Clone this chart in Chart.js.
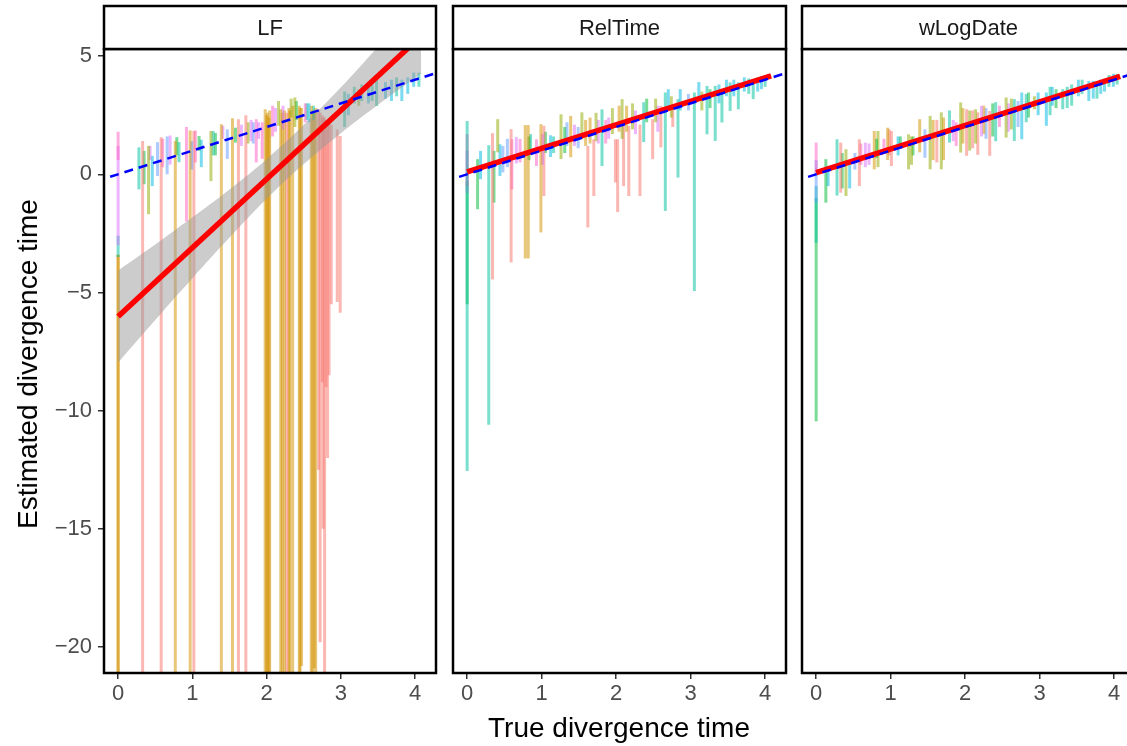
<!DOCTYPE html>
<html>
<head>
<meta charset="utf-8">
<script src="https://cdn.jsdelivr.net/npm/chart.js@4.4.0/dist/chart.umd.min.js"></script>
<style>
  body { margin: 0; width: 1127px; height: 746px; overflow: hidden; background: #fff; position: relative;
         font-family: "Liberation Sans", Arial, sans-serif; }
  canvas { position: absolute; top: 0; }
  .axis-title { position: absolute; color: #000; font-size: 28px; white-space: nowrap; transform: translate(-50%, -50%); }
  #yTitle { transform: translate(-50%, -50%) rotate(-90deg); }
</style>
</head>
<body>
<canvas id="lf" width="440" height="746" style="left:0"></canvas>
<canvas id="rel" width="341" height="746" style="left:449px"></canvas>
<canvas id="wlog" width="341" height="746" style="left:798px"></canvas>
<div class="axis-title" id="xTitle" style="left:619px; top:728px">True divergence time</div>
<div class="axis-title" id="yTitle" style="left:28px; top:364px">Estimated divergence time</div>
<script>
const FONT = '"Liberation Sans", Arial, sans-serif'

// ggplot default hue palette, one colour per clade
const cladeColors = ["#F8766D", "#D39200", "#93AA00", "#00BA38", "#00C19F", "#00B9E3", "#619CFF", "#DB72FB", "#FF61C3"]
const xTicks = [0, 1, 2, 3, 4]
const yTicks = [-20, -15, -10, -5, 0, 5]

// LF: range of estimates per node (true time, lowest, highest, clade)
const lfX = [0, 0, 0, 0, 0.28, 0.33, 0.35, 0.41, 0.43, 0.46, 0.53, 0.58, 0.60, 0.66, 0.70, 0.77, 0.79, 0.82, 0.92, 0.97,
  0.99, 1.02, 1.04, 1.09, 1.12, 1.25, 1.28, 1.31, 1.39, 1.41, 1.47, 1.54, 1.58, 1.62, 1.66, 1.72, 1.75, 1.79, 1.82, 1.86,
  1.89, 1.94, 1.98, 2.01, 2.04, 2.08, 2.12, 2.16, 2.19, 2.22, 2.24, 2.27, 2.30, 2.33, 2.35, 2.38, 2.40, 2.44, 2.47, 2.52,
  2.54, 2.57, 2.60, 2.63, 2.66, 2.70, 2.72, 2.75, 2.78, 2.82, 2.84, 2.87, 2.95, 2.99, 3.05, 3.10, 3.18, 3.24, 3.28, 3.37,
  3.42, 3.48, 3.60, 3.68, 3.75, 3.82, 3.90, 3.98, 4.05,
  0, 2.00, 2.03, 2.21, 2.31, 2.45, 2.62, 2.64, 2.76, 2.80]
const lfLow = [0.6, -3.0, -3.5, -21.5, -0.64, -21.5, -0.42, -1.69, 0.6, -0.5, -0.07, -21.5, 0.3, 0.0, 0.41, -21.5, 0.8, 0.51, -2.0, -21.5,
  0.2, -21.5, 0.5, 0.99, 0.3, -0.29, 0.8, 0.8, -21.5, 1.5, 0.65, -21.5, 1.34, -21.5, 1.2, -21.5, 1.3, 1.4, 1.3, 0.5,
  1.5, 0.65, -21.5, -21.5, -21.5, 1.6, 1.8, 2.05, -21.5, 1.9, -21.5, -21.5, -21.5, 2.4, -21.5, 2.0, 2.3, -21.5, -20.8, 2.2,
  2.3, 2.2, -21.5, 2.3, -21.5, -12.5, -19.8, -8.8, -21.5, -12.0, -8.5, -5.5, -5.4, -5.86, 2.0, 2.5, 3.0, 2.9, 3.1, 3.0,
  3.1, 2.89, 3.2, 3.1, 3.3, 3.1, 3.4, 3.7, 3.7,
  -21.5, -21.5, -21.5, -21.5, -21.5, -21.5, -21.5, -20.9, -15.0, -9.0]
const lfHigh = [1.8, 1.2, -2.6, -3.4, 1.14, 1.41, 0.99, 1.2, 1.2, 0.78, 1.36, 1.57, 1.5, 1.6, 1.64, 1.41, 1.57, 1.36, 2.0, 1.85,
  1.4, 1.83, 1.85, 1.62, 1.46, 1.83, 1.83, 1.75, 2.12, 2.05, 1.9, 2.37, 1.97, 2.33, 2.1, 2.5, 2.2, 2.3, 2.2, 2.33,
  2.2, 2.2, 2.75, 2.6, 2.7, 2.9, 2.8, 3.1, 2.75, 2.9, 2.7, 2.6, 2.8, 3.2, 2.9, 3.25, 3.1, 2.9, 2.8, 3.0,
  3.0, 3.0, 2.9, 2.9, 2.8, 2.75, 2.6, 2.5, 2.4, 2.3, 2.2, 2.1, 1.9, 1.62, 3.5, 3.4, 3.7, 3.6, 3.8, 3.9,
  3.8, 4.16, 3.9, 4.0, 4.1, 4.0, 4.1, 4.3, 4.3,
  -3.4, 2.5, 2.4, 2.6, 2.7, 2.8, 2.7, 2.6, 2.4, 2.3]
const lfClade = [8, 7, 4, 1, 4, 0, 3, 2, 7, 5, 6, 0, 8, 6, 7, 1, 3, 4, 8, 1,
  6, 0, 8, 3, 5, 2, 4, 3, 1, 7, 6, 1, 3, 0, 7, 0, 2, 7, 6, 8,
  7, 8, 1, 1, 1, 8, 7, 2, 1, 7, 1, 0, 1, 2, 1, 2, 3, 1, 1, 8,
  4, 5, 1, 4, 1, 0, 0, 0, 0, 0, 0, 0, 0, 0, 4, 5, 4, 2, 4, 5,
  4, 4, 5, 5, 4, 5, 5, 5, 4,
  1, 1, 1, 1, 1, 1, 1, 1, 0, 0]

// RelTime
const relX = [0, 0, 0, 0, 0.14, 0.18, 0.29, 0.34, 0.36, 0.41, 0.44, 0.48, 0.54, 0.59, 0.60, 0.66, 0.71, 0.78, 0.82, 0.83,
  0.85, 0.93, 0.99, 1.01, 1.03, 1.05, 1.12, 1.16, 1.26, 1.31, 1.34, 1.39, 1.44, 1.49, 1.54, 1.59, 1.62, 1.65, 1.70, 1.73,
  1.76, 1.81, 1.86, 1.90, 1.95, 1.99, 2.02, 2.04, 2.08, 2.10, 2.14, 2.17, 2.22, 2.26, 2.32, 2.37, 2.41, 2.49, 2.53, 2.56,
  2.60, 2.66, 2.70, 2.74, 2.76, 2.83, 2.86, 2.97, 3.05, 3.11, 3.15, 3.22, 3.26, 3.33, 3.38, 3.42, 3.48, 3.53, 3.58, 3.64,
  3.72, 3.78, 3.84, 3.90, 3.95, 4.00]
const relLow = [-12.55, -0.5, -0.8, -5.5, -1.48, -0.21, -10.6, -4.45, -1.2, 0.93, -0.07, 0.08, 0.3, -3.73, -0.64, 0.46, 0.5, -3.56, -3.56, 0.6,
  1.0, 0.35, -2.46, 0.4, -0.92, 0.9, 0.73, 0.9, 0.64, 0.9, 1.2, 0.72, 1.2, 1.1, 1.48, 1.2, -2.25, 1.3, -0.92, 1.4,
  1.3, 0.35, 1.3, 1.5, 1.7, -0.35, -1.6, 1.8, 1.5, -0.5, 1.8, -0.92, 1.9, 1.7, -0.92, 1.36, 2.2, 0.64, 2.2, 1.8,
  1.14, -1.55, 2.75, 2.4, 2.0, -0.14, 2.7, 2.7, -4.94, 3.18, 2.7, 1.69, 2.8, 1.41, 3.0, 2.19, 3.3, 2.68, 3.3, 2.75,
  3.5, 3.4, 3.18, 3.5, 3.6, 3.7]
const relHigh = [2.25, 1.7, 1.0, -0.3, 0.64, 0.99, 1.23, 1.74, 0.99, 2.33, 1.27, 1.2, 1.5, 1.91, 1.48, 1.57, 1.5, 2.08, 2.08, 1.6,
  1.7, 1.48, 2.12, 1.7, 2.05, 1.8, 1.65, 1.6, 2.54, 2.0, 2.2, 2.47, 2.1, 2.0, 2.62, 2.3, 1.2, 2.4, 1.48, 2.6,
  2.3, 2.75, 2.3, 2.4, 2.8, 1.48, 1.48, 2.9, 3.18, 2.05, 2.9, 2.05, 3.0, 2.7, 2.1, 3.05, 3.2, 2.33, 3.2, 2.9,
  2.89, 3.46, 3.6, 3.3, 2.89, 3.18, 3.6, 3.4, 3.46, 3.9, 3.5, 3.74, 3.6, 3.74, 3.8, 3.46, 4.0, 3.89, 4.0, 3.89,
  4.1, 4.05, 4.03, 4.1, 4.15, 4.2]
const relClade = [4, 8, 7, 3, 3, 5, 4, 0, 3, 2, 5, 6, 6, 0, 8, 7, 8, 1, 1, 3,
  4, 8, 1, 7, 0, 3, 5, 4, 2, 3, 6, 1, 7, 6, 2, 1, 0, 1, 0, 2,
  7, 4, 8, 7, 2, 0, 0, 1, 2, 0, 1, 0, 2, 7, 0, 4, 3, 0, 2, 7,
  0, 4, 5, 2, 0, 4, 5, 6, 4, 5, 2, 4, 3, 4, 5, 4, 5, 4, 5, 4,
  5, 4, 4, 5, 5, 4]

// wLogDate
const wlogX = [0, 0, 0, 0, 0.13, 0.16, 0.28, 0.33, 0.35, 0.40, 0.45, 0.52, 0.58, 0.60, 0.66, 0.71, 0.78, 0.81, 0.83, 0.91,
  0.96, 0.98, 1.01, 1.10, 1.13, 1.24, 1.28, 1.30, 1.39, 1.46, 1.53, 1.57, 1.62, 1.68, 1.71, 1.79, 1.84, 1.88, 1.94, 1.97,
  2.02, 2.06, 2.10, 2.14, 2.17, 2.22, 2.25, 2.28, 2.33, 2.37, 2.41, 2.46, 2.55, 2.58, 2.62, 2.66, 2.71, 2.76, 2.82, 2.85,
  2.93, 2.98, 3.09, 3.14, 3.17, 3.22, 3.31, 3.37, 3.43, 3.52, 3.57, 3.66, 3.72, 3.77, 3.82, 3.87, 3.93, 3.99, 4.04]
const wlogLow = [0.0, -1.2, -2.9, -10.45, -1.2, -0.5, -0.9, -0.78, -0.6, -0.92, -0.6, 0.2, -0.5, 0.4, 0.3, 0.4, 0.21, 0.7, 0.3, 0.9,
  0.6, 0.8, 0.35, 0.8, 1.1, 0.21, 0.4, 0.8, 0.93, 0.7, 0.21, 0.6, 0.5, 0.21, 0.6, 1.34, 1.4, 1.2, 0.92, 1.3,
  0.78, 1.0, 1.1, 1.3, 0.82, 1.6, 1.7, 1.5, 0.78, 1.6, 1.4, 2.0, 1.55, 1.8, 1.9, 1.41, 2.0, 1.48, 2.2, 2.4,
  2.75, 2.5, 2.05, 2.5, 2.9, 2.8, 2.75, 2.8, 2.9, 3.3, 3.4, 3.1, 3.2, 3.2, 3.4, 3.5, 3.7, 3.7, 3.8]
const wlogHigh = [1.34, 0.6, -0.5, -1.0, 0.64, 0.3, 1.48, 1.34, 0.9, 1.06, 0.5, 0.9, 1.48, 1.3, 1.34, 1.3, 1.83, 1.5, 1.83, 1.5,
  1.97, 1.9, 1.83, 1.6, 1.6, 1.69, 1.6, 1.6, 2.33, 1.9, 2.47, 2.3, 2.3, 2.62, 2.4, 2.7, 2.3, 2.2, 3.04, 2.8,
  2.75, 2.7, 2.7, 2.75, 2.62, 2.9, 2.9, 2.8, 2.68, 3.0, 3.05, 2.9, 3.25, 3.0, 3.2, 3.18, 3.1, 3.46, 3.4, 3.46,
  3.3, 3.46, 3.46, 3.7, 3.7, 3.6, 3.6, 3.7, 3.8, 4.0, 4.0, 3.95, 3.95, 3.9, 4.0, 4.05, 4.2, 4.25, 4.25]
const wlogClade = [8, 6, 4, 3, 3, 5, 4, 0, 3, 2, 5, 6, 0, 8, 7, 7, 1, 3, 2, 8,
  1, 0, 0, 5, 3, 2, 2, 3, 1, 6, 2, 1, 0, 2, 1, 4, 7, 8, 2, 1,
  0, 2, 0, 2, 0, 7, 1, 6, 0, 3, 4, 8, 2, 7, 2, 4, 6, 5, 4, 3,
  2, 5, 5, 4, 5, 3, 4, 4, 4, 5, 4, 5, 5, 4, 5, 5, 4, 5, 4]

// linear fits (red) and the LF confidence band
const fitX = [0, 4.08]
const lfFit = [-6.02, 5.85]
const relFit = [0.10, 4.16]
const wlogFit = [0.07, 4.14]
const bandX = [0, 0.5, 1, 1.5, 2, 2.5, 3, 3.5, 4.08]
const lfBandLow = [-7.97, -6.17, -4.40, -2.68, -1.04, 0.43, 1.74, 2.94, 4.26]
const lfBandHigh = [-4.07, -2.97, -1.82, -0.64, 0.64, 2.09, 3.68, 5.40, 7.44]

// y = x reference
const identityX = [-0.3, 4.4]

const panelFrame = {
  id: "panelFrame",
  afterDraw(chart, args, opts) {
    const { ctx, chartArea: a } = chart
    ctx.save()
    ctx.strokeStyle = "#000"
    ctx.lineWidth = 2.5
    ctx.strokeRect(a.left, a.top, a.right - a.left, a.bottom - a.top)
    // facet strip
    ctx.fillStyle = "#fff"
    ctx.fillRect(a.left, 6, a.right - a.left, a.top - 6)
    ctx.strokeRect(a.left, 6, a.right - a.left, a.top - 6)
    ctx.fillStyle = "#1A1A1A"
    ctx.font = "22px " + FONT
    ctx.textAlign = "center"
    ctx.textBaseline = "middle"
    ctx.fillText(opts.label, (a.left + a.right) / 2, (6 + a.top) / 2 + 1)
    ctx.restore()
  },
}
Chart.register(panelFrame)

const pts = (xs, ys) => xs.map((x, i) => ({ x: x, y: ys[i] }))
const minus = (v) => String(v).replace("-", "\u2212")

function makePanel(id, label, xs, lows, highs, clades, fit, bandLow, bandHigh, showY) {
  const datasets = [
    {
      data: pts(identityX, identityX),
      borderColor: "#0000FF", borderWidth: 2.5, borderDash: [9, 6], pointRadius: 0, order: 0,
    },
    {
      data: pts(fitX, fit),
      borderColor: "#FF0000", borderWidth: 5.5, pointRadius: 0, order: 1,
    },
  ]
  if (bandLow) {
    datasets.push({
      data: pts(bandX, bandHigh), borderWidth: 0, pointRadius: 0, order: 2,
      backgroundColor: "rgba(153,153,153,0.5)", fill: "+1", tension: 0.4,
    })
    datasets.push({
      data: pts(bandX, bandLow), borderWidth: 0, pointRadius: 0, order: 3, fill: false, tension: 0.4,
    })
  }
  // one vertical segment per node, so overlapping ranges darken
  xs.forEach((x, i) => {
    datasets.push({
      data: [{ x: x, y: lows[i] }, { x: x, y: highs[i] }],
      borderColor: cladeColors[clades[i]] + "85",
      borderWidth: 3, borderCapStyle: "butt", pointRadius: 0, order: 10,
    })
  })

  const tickStyle = { color: "#4D4D4D", font: { size: 22, family: FONT } }
  const gridStyle = { display: true, drawOnChartArea: false, drawTicks: true, tickLength: 6, color: "#333", lineWidth: 1.5 }

  return new Chart(document.getElementById(id), {
    type: "line",
    data: { datasets },
    options: {
      responsive: false,
      animation: false,
      events: [],
      layout: { padding: { top: 49, left: showY ? 0 : 4, right: 4, bottom: 0 } },
      plugins: { legend: { display: false }, tooltip: { enabled: false }, panelFrame: { label } },
      scales: {
        x: {
          type: "linear", min: -0.19, max: 4.28,
          afterFit: (s) => { s.height = 73 },
          afterBuildTicks: (s) => { s.ticks = xTicks.map((v) => ({ value: v })) },
          grid: gridStyle,
          border: { display: false },
          ticks: { ...tickStyle, padding: 2, maxRotation: 0, autoSkip: false },
        },
        y: {
          type: "linear", min: -21.1, max: 5.3, display: showY,
          afterFit: (s) => { s.width = showY ? 104 : 0 },
          afterBuildTicks: (s) => { s.ticks = yTicks.map((v) => ({ value: v })) },
          grid: gridStyle,
          border: { display: false },
          ticks: { ...tickStyle, padding: 6, callback: minus },
        },
      },
    },
  })
}

makePanel("lf", "LF", lfX, lfLow, lfHigh, lfClade, lfFit, lfBandLow, lfBandHigh, true)
makePanel("rel", "RelTime", relX, relLow, relHigh, relClade, relFit, null, null, false)
makePanel("wlog", "wLogDate", wlogX, wlogLow, wlogHigh, wlogClade, wlogFit, null, null, false)
</script>
</body>
</html>
